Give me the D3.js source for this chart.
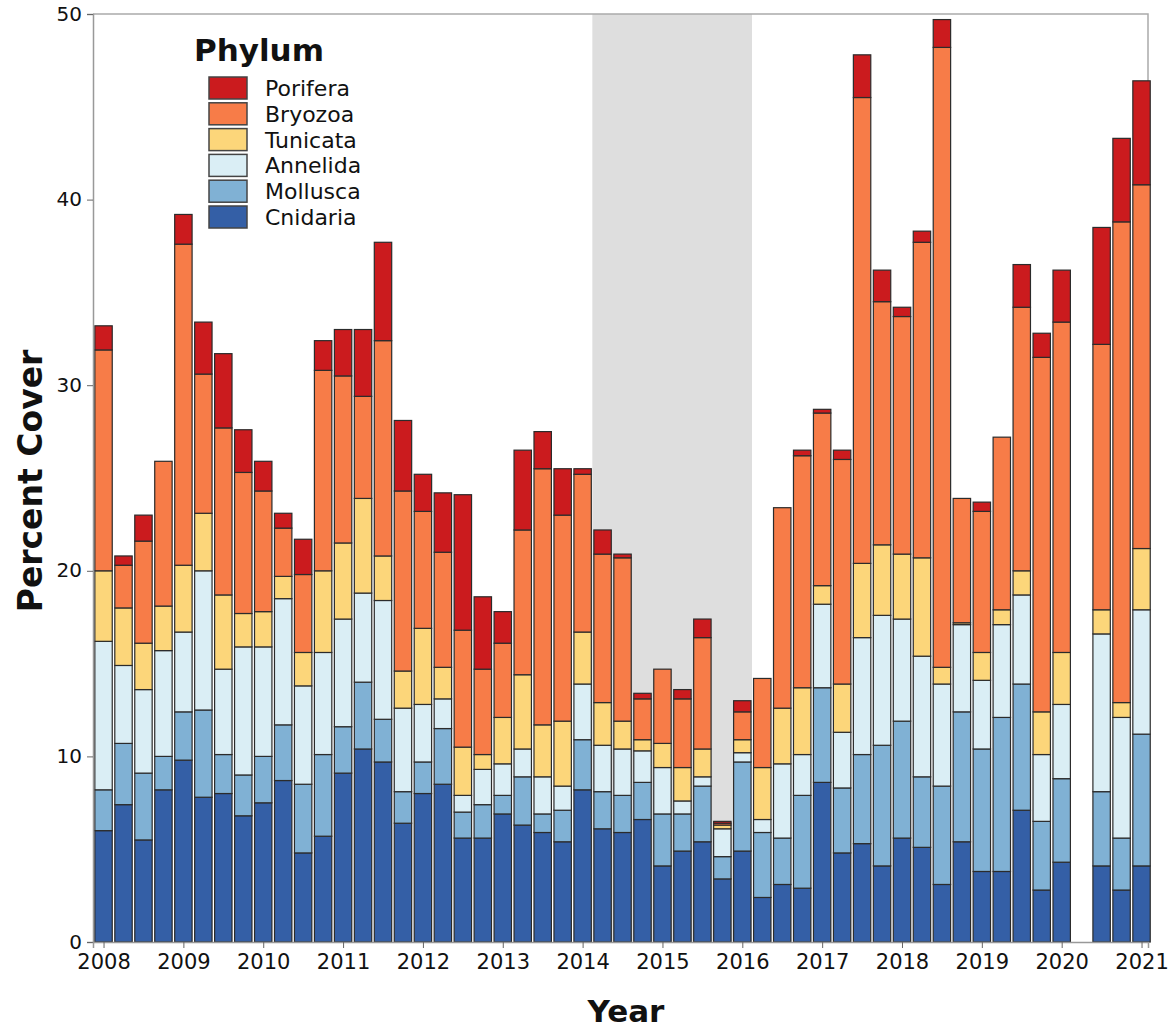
<!DOCTYPE html>
<html>
<head>
<meta charset="utf-8">
<script src="https://cdn.jsdelivr.net/npm/d3@7"></script>
<style>
  body { margin: 0; background: #fff; }
  svg { display: block; }
  text { font-family: "DejaVu Sans", Verdana, sans-serif; }
</style>
</head>
<body>
<svg id="chart" width="1176" height="1030"></svg>
<script>
// ---------------- DATA ----------------
const dates = [
  "2008-01","2008-04","2008-07","2008-10",
  "2009-01","2009-04","2009-07","2009-10",
  "2010-01","2010-04","2010-07","2010-10",
  "2011-01","2011-04","2011-07","2011-10",
  "2012-01","2012-04","2012-07","2012-10",
  "2013-01","2013-04","2013-07","2013-10",
  "2014-01","2014-04","2014-07","2014-10",
  "2015-01","2015-04","2015-07","2015-10",
  "2016-01","2016-04","2016-07","2016-10",
  "2017-01","2017-04","2017-07","2017-10",
  "2018-01","2018-04","2018-07","2018-10",
  "2019-01","2019-04","2019-07","2019-10",
  "2020-01","2020-07","2020-10",
  "2021-01"
];

const cnidaria = [6.0,7.4,5.5,8.2, 9.8,7.8,8.0,6.8, 7.5,8.7,4.8,5.7, 9.1,10.4,9.7,6.4, 8.0,8.5,5.6,5.6, 6.9,6.3,5.9,5.4, 8.2,6.1,5.9,6.6, 4.1,4.9,5.4,3.4, 4.9,2.4,3.1,2.9, 8.6,4.8,5.3,4.1, 5.6,5.1,3.1,5.4, 3.8,3.8,7.1,2.8, 4.3,4.1,2.8, 4.1];
const mollusca = [2.2,3.3,3.6,1.8, 2.6,4.7,2.1,2.2, 2.5,3.0,3.7,4.4, 2.5,3.6,2.3,1.7, 1.7,3.0,1.4,1.8, 1.0,2.6,1.0,1.7, 2.7,2.0,2.0,2.0, 2.8,2.0,3.0,1.2, 4.8,3.5,2.5,5.0, 5.1,3.5,4.8,6.5, 6.3,3.8,5.3,7.0, 6.6,8.3,6.8,3.7, 4.5,4.0,2.8, 7.1];
const annelida = [8.0,4.2,4.5,5.7, 4.3,7.5,4.6,6.9, 5.9,6.8,5.3,5.5, 5.8,4.8,6.4,4.5, 3.1,1.6,0.9,1.9, 1.7,1.5,2.0,1.3, 3.0,2.5,2.5,1.7, 2.5,0.7,0.5,1.5, 0.5,0.7,4.0,2.2, 4.5,3.0,6.3,7.0, 5.5,6.5,5.5,4.7, 3.7,5.0,4.8,3.6, 4.0,8.5,6.5, 6.7];
const tunicata = [3.8,3.1,2.5,2.4, 3.6,3.1,4.0,1.8, 1.9,1.2,1.8,4.4, 4.1,5.1,2.4,2.0, 4.1,1.7,2.6,0.8, 2.5,4.0,2.8,3.5, 2.8,2.3,1.5,0.6, 1.3,1.8,1.5,0.2, 0.7,2.8,3.0,3.6, 1.0,2.6,4.0,3.8, 3.5,5.3,0.9,0.1, 1.5,0.8,1.3,2.3, 2.8,1.3,0.8, 3.3];
const bryozoa = [11.9,2.3,5.5,7.8, 17.3,7.5,9.0,7.6, 6.5,2.6,4.2,10.8, 9.0,5.5,11.6,9.7, 6.3,6.2,6.3,4.6, 4.0,7.8,13.8,11.1, 8.5,8.0,8.8,2.2, 4.0,3.7,6.0,0.1, 1.5,4.8,10.8,12.5, 9.3,12.1,25.1,13.1, 12.8,17.0,33.4,6.7, 7.6,9.3,14.2,19.1, 17.8,14.3,25.9, 19.6];
const porifera = [1.3,0.5,1.4,0, 1.6,2.8,4.0,2.3, 1.6,0.8,1.9,1.6, 2.5,3.6,5.3,3.8, 2.0,3.2,7.3,3.9, 1.7,4.3,2.0,2.5, 0.3,1.3,0.2,0.3, 0,0.5,1.0,0.1, 0.6,0,0,0.3, 0.2,0.5,2.3,1.7, 0.5,0.6,1.5,0, 0.5,0,2.3,1.3, 2.8,6.3,4.5, 5.6];

const phyla = ["Cnidaria","Mollusca","Annelida","Tunicata","Bryozoa","Porifera"]; // bottom -> top
const seriesValues = [cnidaria, mollusca, annelida, tunicata, bryozoa, porifera];
const colors = ["#345fa6","#80b1d4","#daeef5","#fcd67a","#f77c48","#cb1b1e"];
const legendOrder = ["Porifera","Bryozoa","Tunicata","Annelida","Mollusca","Cnidaria"];
const yearTicks = [2008,2009,2010,2011,2012,2013,2014,2015,2016,2017,2018,2019,2020,2021];
const yTicks = [0,10,20,30,40,50];
const shadedPeriod = ["2014-02-15","2016-02-15"];

// ---------------- CHART ----------------
const svg = d3.select("#chart");
const toYear = s => {
  const p = s.split("-").map(Number);
  return p[0] + (p[1]-1)/12 + ((p[2]||1)-1)/365;
};

const x = d3.scaleLinear().domain([2007.868, 2021.081]).range([93, 1148]);
const y = d3.scaleLinear().domain([0, 50]).range([942, 14]);
const color = d3.scaleOrdinal().domain(phyla).range(colors);

// table
const table = dates.map((d, i) => {
  const row = { date: toYear(d) };
  phyla.forEach((p, k) => row[p] = seriesValues[k][i]);
  return row;
});
const stacked = d3.stack().keys(phyla)(table);

// shaded period
svg.append("rect")
  .attr("x", x(toYear(shadedPeriod[0])))
  .attr("y", y(50))
  .attr("width", x(toYear(shadedPeriod[1])) - x(toYear(shadedPeriod[0])))
  .attr("height", y(0) - y(50))
  .attr("fill", "#dedede");

// frame (top/right)
svg.append("path")
  .attr("d", `M${x.range()[0]},${y(50)}H${x.range()[1]}V${y(0)}`)
  .attr("fill", "none").attr("stroke", "#aaa").attr("stroke-width", 1.5);

const halfW = 0.109;
const g = svg.append("g");
stacked.forEach(layer => {
  g.selectAll(null)
    .data(layer.filter(d => d[1] - d[0] > 0))
    .enter().append("rect")
    .attr("x", d => x(d.data.date - halfW))
    .attr("width", d => x(d.data.date + halfW) - x(d.data.date - halfW))
    .attr("y", d => y(d[1]))
    .attr("height", d => y(d[0]) - y(d[1]))
    .attr("fill", color(layer.key))
    .attr("stroke", "#2b2b2b")
    .attr("stroke-width", 1.2);
});

// axes
const yAxis = svg.append("g")
  .attr("transform", `translate(${x.range()[0]},0)`)
  .call(d3.axisLeft(y).tickValues(yTicks).tickSize(6).tickPadding(5).tickFormat(d3.format("d")));
const xAxis = svg.append("g")
  .attr("transform", `translate(0,${y(0)})`)
  .call(d3.axisBottom(x).tickValues(yearTicks).tickSize(6).tickPadding(6).tickFormat(d3.format("d")));
[yAxis, xAxis].forEach(a => {
  a.select(".domain").attr("stroke", "#999").attr("stroke-width", 1.5);
  a.selectAll(".tick line").attr("stroke", "#666");
  a.selectAll(".tick text").attr("fill", "#111")
    .style("font-family", '"DejaVu Sans", Verdana, sans-serif');
});
yAxis.selectAll(".tick text").style("font-size", "20px").attr("dy", "0.3em");
xAxis.selectAll(".tick text").style("font-size", "21px");

// axis titles
svg.append("text")
  .attr("transform", "translate(42,481) rotate(-90)")
  .attr("text-anchor", "middle")
  .style("font-size", "33px").style("font-weight", "bold")
  .attr("fill", "#111")
  .text("Percent Cover");
svg.append("text")
  .attr("x", 626).attr("y", 1022)
  .attr("text-anchor", "middle")
  .style("font-size", "31px").style("font-weight", "bold")
  .attr("fill", "#111")
  .text("Year");

// legend
const lg = svg.append("g");
lg.append("text")
  .attr("x", 194).attr("y", 61)
  .style("font-size", "31px").style("font-weight", "bold")
  .attr("fill", "#111")
  .text("Phylum");
legendOrder.forEach((name, i) => {
  const yy = 77 + i * 25.8;
  lg.append("rect")
    .attr("x", 209).attr("y", yy)
    .attr("width", 38).attr("height", 22)
    .attr("fill", color(name))
    .attr("stroke", "#444").attr("stroke-width", 1.5);
  lg.append("text")
    .attr("x", 265).attr("y", yy + 11)
    .attr("dy", "0.36em")
    .style("font-size", "22px")
    .attr("fill", "#111")
    .text(name);
});
</script>
</body>
</html>
